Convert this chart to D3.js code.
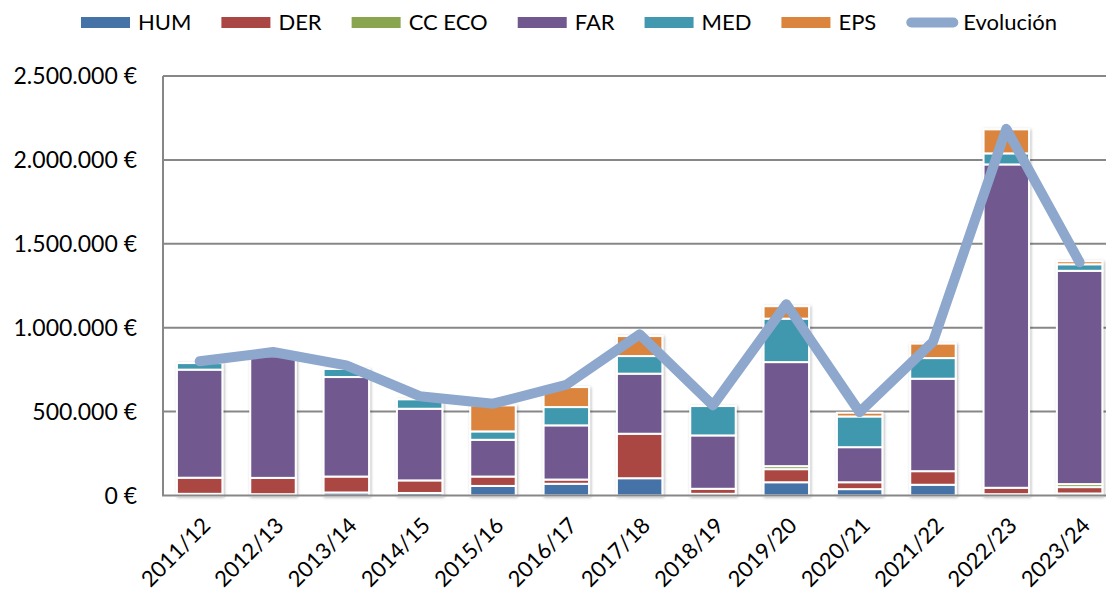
<!DOCTYPE html>
<html>
<head>
<meta charset="utf-8">
<script src="https://cdn.jsdelivr.net/npm/d3@7"></script>
<style>
	body { margin: 0; background: #fff; }
	text { font-family: Lato, "Open Sans", sans-serif; fill: #000; }
</style>
</head>
<body>
<script>
// Academic years on the x axis
var years = ["2011/12", "2012/13", "2013/14", "2014/15", "2015/16", "2016/17", "2017/18",
			 "2018/19", "2019/20", "2020/21", "2021/22", "2022/23", "2023/24"];

// Amounts per centre (euros)
var hum   = [10000, 8000, 18000, 15000, 57000, 70000, 103000, 10000, 79000, 38000, 64000, 8000, 12000];
var der   = [96000, 97000, 95000, 75000, 56000, 25000, 265000, 30000, 78000, 41000, 81000, 38000, 38000];
var ccEco = [0, 0, 0, 0, 0, 0, 0, 0, 18000, 0, 0, 0, 18000];
var far   = [644000, 725000, 593000, 427000, 219000, 323000, 358000, 318000, 620000, 209000, 551000, 1927000, 1271000];
var med   = [39000, 0, 48000, 56000, 50000, 109000, 105000, 175000, 259000, 183000, 123000, 66000, 39000];
var eps   = [0, 0, 0, 0, 155000, 119000, 119000, 0, 74000, 22000, 86000, 143000, 18000];

// Evolución line
var evolucion = [800000, 855000, 775000, 592000, 547000, 660000, 960000, 537000, 1140000, 497000, 915000, 2185000, 1390000];

var yTicks = [0, 500000, 1000000, 1500000, 2000000, 2500000];

var seriesNames = ["HUM", "DER", "CC ECO", "FAR", "MED", "EPS"];
var seriesValues = [hum, der, ccEco, far, med, eps];
var colors = ["#4572A7", "#AA4643", "#89A54E", "#71588F", "#4198AF", "#DB843D"];
var lineColor = "#8EA7CD";

var width = 1106, height = 593;
var plotLeft = 163, plotTop = 76, plotBottom = 495.5;

// Rows for d3.stack
var rows = years.map(function(yr, i) {
	var row = {year: yr};
	seriesNames.forEach(function(name, k) { row[name] = seriesValues[k][i]; });
	return row;
});

var x = d3.scaleBand()
	.domain(years)
	.range([plotLeft, plotLeft + 13 * 73.33])
	.paddingInner(0.38)
	.paddingOuter(0.19);

var y = d3.scaleLinear()
	.domain([0, 2500000])
	.range([plotBottom, plotTop]);

var color = d3.scaleOrdinal().domain(seriesNames).range(colors);

var svg = d3.select("body").append("svg")
	.attr("width", width)
	.attr("height", height);

var defs = svg.append("defs");
var shadow = defs.append("filter")
	.attr("id", "shadow")
	.attr("x", "-20%").attr("y", "-5%")
	.attr("width", "140%").attr("height", "110%");
shadow.append("feDropShadow")
	.attr("dx", 1).attr("dy", 1)
	.attr("stdDeviation", 1.6)
	.attr("flood-color", "#000")
	.attr("flood-opacity", 0.3);

// Gridlines
svg.append("g")
	.selectAll("line")
	.data(yTicks.slice(1))
	.enter().append("line")
		.attr("x1", plotLeft)
		.attr("x2", width)
		.attr("y1", function(d) { return y(d); })
		.attr("y2", function(d) { return y(d); })
		.attr("stroke", "#878787")
		.attr("stroke-width", 2);

// Y labels
svg.append("g")
	.selectAll("text")
	.data(yTicks)
	.enter().append("text")
		.attr("x", 137)
		.attr("y", function(d) { return y(d); })
		.attr("dy", "0.35em")
		.style("text-anchor", "end")
		.style("font-size", "23px")
		.text(function(d) { return d3.format(",")(d).replace(/,/g, ".") + " €"; });

// Stacked bars
var stacked = d3.stack().keys(seriesNames)(rows);

var bars = svg.append("g")
	.selectAll("g")
	.data(years)
	.enter().append("g")
		.attr("filter", "url(#shadow)");

bars.each(function(yr, i) {
	var segs = stacked.map(function(s) { return {key: s.key, lo: s[i][0], hi: s[i][1]}; })
		.filter(function(d) { return d.hi - d.lo > 0; });
	d3.select(this).selectAll("rect")
		.data(segs)
		.enter().append("rect")
			.attr("x", x(yr))
			.attr("width", x.bandwidth())
			.attr("y", function(d) { return y(d.hi); })
			.attr("height", function(d) { return y(d.lo) - y(d.hi); })
			.attr("fill", function(d) { return color(d.key); })
			.attr("stroke", "#fff")
			.attr("stroke-width", 2);
});

// Axis lines
svg.append("line")
	.attr("x1", plotLeft).attr("x2", plotLeft)
	.attr("y1", plotTop).attr("y2", plotBottom)
	.attr("stroke", "#878787").attr("stroke-width", 2);
svg.append("line")
	.attr("x1", plotLeft - 1).attr("x2", width)
	.attr("y1", plotBottom).attr("y2", plotBottom)
	.attr("stroke", "#878787").attr("stroke-width", 2);

// X labels, rotated
svg.append("g")
	.selectAll("text")
	.data(years)
	.enter().append("text")
		.attr("transform", function(d) {
			return "translate(" + (x(d) + x.bandwidth() / 2 + 12) + ",527) rotate(-45)";
		})
		.style("text-anchor", "end")
		.style("font-size", "22px")
		.text(function(d) { return d; });

// Evolución line
var line = d3.line()
	.x(function(d, i) { return x(years[i]) + x.bandwidth() / 2; })
	.y(function(d) { return y(d); });

svg.append("path")
	.datum(evolucion)
	.attr("d", line)
	.attr("fill", "none")
	.attr("stroke", lineColor)
	.attr("stroke-width", 10)
	.attr("stroke-linejoin", "round")
	.attr("stroke-linecap", "round");

// Legend
var legend = svg.append("g");
var lx = 81, ly = 22.5;
var legendItems = seriesNames.concat(["Evolución"]);
legendItems.forEach(function(name, i) {
	if (i < seriesNames.length) {
		legend.append("rect")
			.attr("x", lx).attr("y", ly - 5.5)
			.attr("width", 49).attr("height", 11)
			.attr("fill", colors[i]);
	} else {
		legend.append("line")
			.attr("x1", lx + 5).attr("x2", lx + 47)
			.attr("y1", ly).attr("y2", ly)
			.attr("stroke", lineColor)
			.attr("stroke-width", 10)
			.attr("stroke-linecap", "round");
	}
	var t = legend.append("text")
		.attr("x", lx + 57)
		.attr("y", ly)
		.attr("dy", "0.35em")
		.style("font-size", "22px")
		.text(name);
	lx = lx + 57 + t.node().getComputedTextLength() + 30;
});
</script>
</body>
</html>
